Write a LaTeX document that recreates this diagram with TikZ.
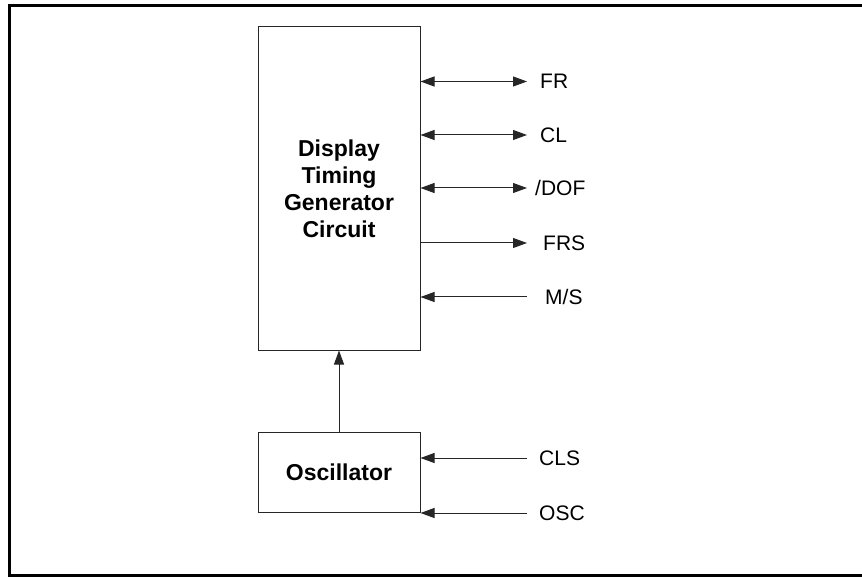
\documentclass[tikz,border=0pt]{standalone}
\usepackage{fontspec}
\setmainfont{Liberation Sans}
\usetikzlibrary{arrows.meta}
\begin{document}
\begin{tikzpicture}[x=1pt,y=-1pt,
  blk/.style={draw=black!85,line width=1pt,fill=white},
  sig/.style={line width=1pt,draw=black!85},
  lbl/.style={anchor=west,font=\fontsize{21}{24}\selectfont,inner sep=0pt}]
\useasboundingbox (0,0) rectangle (862,577);
% frame
\draw[line width=3.5pt] (862,5.5) -- (9.5,5.5) -- (9.5,575.5) -- (862,575.5);
% blocks
\node[blk,minimum width=162pt,minimum height=323pt,inner sep=0pt,
  align=center,font=\bfseries\fontsize{23}{27}\selectfont] (dtg) at (339,188.5)
  {Display\\Timing\\Generator\\Circuit};
\node[blk,minimum width=162pt,minimum height=80pt,inner sep=0pt,
  font=\bfseries\fontsize{23}{27}\selectfont] (osc) at (339,472) {Oscillator};
\draw[sig,-{Triangle[length=14pt,width=10pt]}] (osc.north) -- (dtg.south);
% signals
\coordinate (eFR) at (527,81.5);
\coordinate (eCL) at (527,135);
\coordinate (eDOF) at (527,188);
\coordinate (eFRS) at (527,243);
\coordinate (eMS) at (527,297);
\coordinate (eCLS) at (527,458);
\coordinate (eOSC) at (527,513);
\node[lbl] (lFR) at (540,81.5) {FR};
\node[lbl] (lCL) at (540,135) {CL};
\node[lbl] (lDOF) at (535,188) {/DOF};
\node[lbl] (lFRS) at (543,243) {FRS};
\node[lbl] (lMS) at (545,297) {M/S};
\node[lbl] (lCLS) at (539,458) {CLS};
\node[lbl] (lOSC) at (539,513) {OSC};
\draw[sig,{Triangle[length=14pt,width=10pt]}-{Triangle[length=14pt,width=10pt]}] (dtg.east |- eFR) -- (eFR);
\draw[sig,{Triangle[length=14pt,width=10pt]}-{Triangle[length=14pt,width=10pt]}] (dtg.east |- eCL) -- (eCL);
\draw[sig,{Triangle[length=14pt,width=10pt]}-{Triangle[length=14pt,width=10pt]}] (dtg.east |- eDOF) -- (eDOF);
\draw[sig,-{Triangle[length=14pt,width=10pt]}] (dtg.east |- eFRS) -- (eFRS);
\draw[sig,{Triangle[length=14pt,width=10pt]}-] (dtg.east |- eMS) -- (eMS);
\draw[sig,{Triangle[length=14pt,width=10pt]}-] (osc.east |- eCLS) -- (eCLS);
\draw[sig,{Triangle[length=14pt,width=10pt]}-] (osc.east |- eOSC) -- (eOSC);
\end{tikzpicture}
\end{document}
